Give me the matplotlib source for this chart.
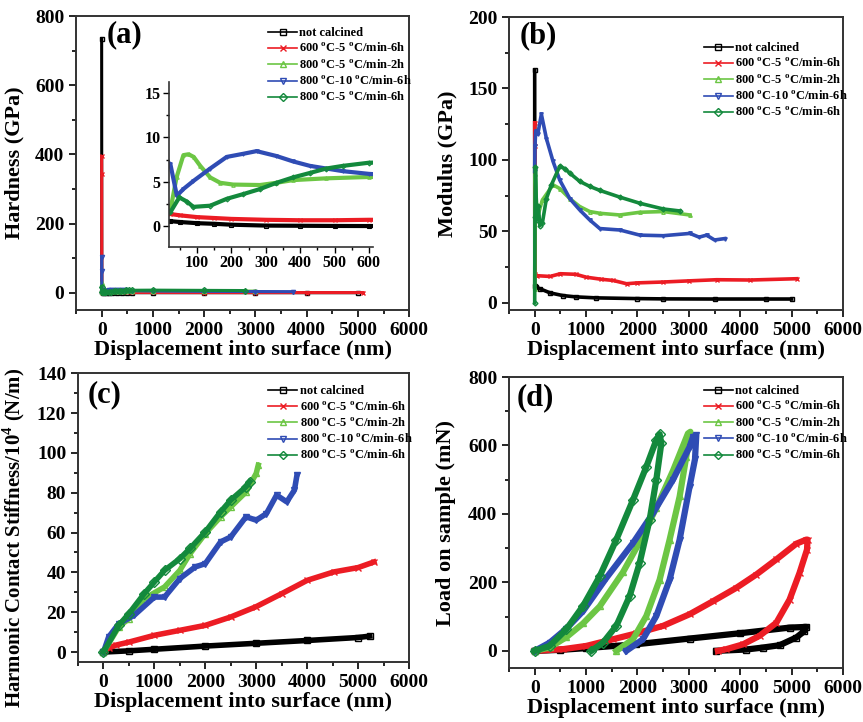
import numpy as np
import matplotlib
matplotlib.use('Agg')
import matplotlib.pyplot as plt
from matplotlib.ticker import MultipleLocator

plt.rcParams['font.family'] = ['Liberation Serif', 'DejaVu Serif']
plt.rcParams['font.weight'] = 'bold'
plt.rcParams['mathtext.fontset'] = 'custom'
plt.rcParams['mathtext.rm'] = 'Liberation Serif:bold'
plt.rcParams['mathtext.bf'] = 'Liberation Serif:bold'

# sample names, colours, markers
deg = r'$^{\mathrm{o}}$'
labels = ['not calcined', '600 ' + deg + 'C-5 ' + deg + 'C/min-6h', '800 ' + deg + 'C-5 ' + deg + 'C/min-2h',
          '800 ' + deg + 'C-10 ' + deg + 'C/min-6h', '800 ' + deg + 'C-5 ' + deg + 'C/min-6h']
colors = ['#000000', '#ec1c24', '#6cc644', '#2f4cb4', '#13893c']
markers = ['s', 'x', '^', 'v', 'D']

# (a) hardness vs displacement (GPa)
h_x = [
    [0, 3, 22, 50, 100, 150, 200, 300, 400, 500, 600, 1000, 2000, 3000, 4000, 5000],
    [0, 1, 3, 22, 50, 100, 150, 200, 300, 400, 500, 600, 1000, 2000, 3000, 4000, 5100],
    [0, 2, 22, 40, 60, 75, 90, 109, 138, 167, 205, 283, 331, 379, 476, 600, 1000, 2000, 3000],
    [0, 1, 3, 22, 41, 60, 89, 138, 186, 234, 273, 331, 379, 428, 476, 525, 600, 1000, 2000, 3000, 3740],
    [0, 2, 22, 48, 70, 89, 138, 186, 234, 283, 331, 379, 428, 476, 525, 600, 1000, 2000, 2800],
]
h_y = [
    [735, 0.7, 0.6, 0.5, 0.37, 0.3, 0.2, 0.1, 0.08, 0.06, 0.05, 0.05, 0.05, 0.05, 0.05, 0.05],
    [394, 343, 1.5, 1.4, 1.25, 1.05, 0.95, 0.85, 0.75, 0.7, 0.7, 0.75, 0.7, 0.6, 0.5, 0.5, 0.5],
    [28, 3, 1.8, 5.5, 8.0, 8.1, 7.8, 6.8, 5.5, 4.9, 4.7, 4.65, 4.9, 5.2, 5.4, 5.55, 5.6, 5.2, 4.8],
    [102, 64, 7.5, 7.0, 3.45, 4.2, 5.1, 6.5, 7.8, 8.15, 8.45, 7.9, 7.3, 6.8, 6.5, 6.2, 5.9, 5.0, 4.0, 3.5, 3.2],
    [18, 2, 1.6, 3.26, 2.8, 2.2, 2.33, 3.1, 3.63, 4.2, 4.9, 5.5, 6.0, 6.5, 6.8, 7.15, 7.5, 6.8, 6.3],
]

# (b) modulus (GPa)
m_x = [
    [0, 2, 30, 100, 300, 550, 800, 1200, 2000, 2500, 3500, 4500, 5000],
    [0, 2, 10, 50, 300, 500, 800, 1000, 1300, 1527, 1787, 2000, 2502, 3000, 3541, 4200, 5100],
    [0, 10, 40, 70, 150, 357, 487, 682, 877, 1072, 1267, 1657, 2047, 2502, 3021],
    [0, 5, 20, 60, 130, 228, 357, 487, 682, 877, 1072, 1267, 1657, 2047, 2502, 3021, 3200, 3346, 3500, 3700],
    [0, 5, 15, 40, 70, 100, 150, 228, 325, 487, 585, 682, 877, 1072, 1267, 1657, 2047, 2502, 2827],
]
m_y = [
    [163, 12, 11, 9.9, 7, 5.1, 4.2, 3.5, 3.0, 2.8, 2.7, 2.7, 2.7],
    [126, 110, 20, 19, 18.5, 20.4, 20, 18, 16.5, 15.7, 13.4, 14, 14.6, 15.4, 16.2, 16, 16.9],
    [10, 90, 65, 62, 72, 82.6, 80, 73, 67.4, 63.9, 62.7, 61.5, 63.4, 63.9, 61.5],
    [92, 110, 120, 118, 132, 115, 99, 86, 73, 65, 58, 52, 51, 47.4, 47, 48.6, 46, 47.4, 44, 45],
    [0, 60, 95, 58, 68, 54, 56, 73, 82.6, 95.5, 94, 90.8, 85, 81.5, 78.7, 74, 69.7, 65.7, 64.3],
]

# (c) harmonic contact stiffness / 10^4 (N/m)
s_x = [
    [0, 500, 1000, 2000, 3000, 4000, 5000, 5230],
    [0, 100, 250, 500, 1000, 1500, 2000, 2500, 3000, 3500, 4000, 4520, 5000, 5310],
    [0, 300, 500, 800, 1200, 1500, 1700, 2000, 2300, 2500, 2800, 3000, 3040],
    [0, 100, 300, 600, 1000, 1200, 1500, 1800, 2000, 2300, 2500, 2800, 3000, 3200, 3400, 3600, 3750, 3800],
    [0, 300, 500, 800, 1000, 1200, 1500, 1700, 2000, 2300, 2500, 2800, 2870],
]
s_y = [
    [0, 0.6, 1.4, 3.0, 4.4, 5.8, 7.3, 8.0],
    [0, 2, 3.5, 5.0, 8.4, 10.9, 13.4, 17.6, 22.8, 29.3, 36.0, 40.2, 42.4, 45.2],
    [0, 12.6, 16.8, 26.8, 32.7, 41, 49.4, 59.5, 67.9, 72.9, 80.4, 89.7, 93.8],
    [0, 7.5, 14.2, 18.4, 27.6, 27.6, 36.9, 42.7, 44.4, 55.3, 57.8, 67.9, 66.2, 69.5, 78.8, 75.4, 81.3, 88.8],
    [0, 13.4, 19.3, 29.3, 35.2, 41, 46.9, 52, 60.3, 70.4, 76.3, 83, 85.5],
]

# (d) load on sample (mN), loading then unloading
l_x = [
    [0, 500, 1000, 1978, 3015, 3988, 4961, 5285, 5250, 5091, 4766, 4442, 4118, 3534],
    [0, 551, 1005, 1524, 1978, 2497, 3015, 3470, 3923, 4313, 4702, 5091, 5285, 5310,
     5300, 5155, 4961, 4702, 4377, 4053, 3729, 3567],
    [0, 292, 616, 940, 1265, 1719, 2043, 2367, 2691, 2983, 3030,
     2950, 2821, 2626, 2432, 2173, 1913, 1589],
    [0, 292, 616, 940, 1394, 1913, 2302, 2691, 3015, 3080, 3145,
     3120, 3015, 2821, 2626, 2367, 2108, 1783],
    [0, 292, 616, 940, 1265, 1589, 1913, 2173, 2367, 2432,
     2464, 2367, 2237, 2043, 1848, 1589, 1329, 1102],
]
l_y = [
    [0, 3, 8, 19.4, 36, 51.4, 68, 70, 58, 39, 16.5, 9.7, 4, 0],
    [0, 5, 14.5, 34, 51, 73, 107, 145, 184, 223, 267, 313, 325, 325,
     296, 228, 150, 82, 44, 19, 5, 0],
    [0, 10, 40, 80, 130, 230, 318, 418, 526, 635, 640,
     567, 451, 325, 208, 102, 34, 0],
    [0, 24, 65, 116, 213, 315, 402, 500, 596, 625, 630,
     560, 480, 325, 208, 102, 34, 0],
    [0, 14.5, 63, 131, 218, 325, 441, 538, 616, 633,
     606, 500, 383, 257, 160, 73, 24, 0],
]

fig = plt.figure(figsize=(8.63, 7.22), dpi=100)
ax_a = fig.add_axes([0.0881, 0.5706, 0.386, 0.4072])
ax_b = fig.add_axes([0.5898, 0.5706, 0.387, 0.4058])
ax_c = fig.add_axes([0.0904, 0.0831, 0.3835, 0.400])
ax_d = fig.add_axes([0.5898, 0.0748, 0.387, 0.403])
ax_in = fig.add_axes([0.1958, 0.6579, 0.2364, 0.2285])


def style(ax, ylim, ymaj, ylabel, lab_x, lab_y=0.5, lab_fs=16):
    ax.set_xlim(-500, 6000)
    ax.set_ylim(*ylim)
    ax.xaxis.set_major_locator(MultipleLocator(1000))
    ax.xaxis.set_minor_locator(MultipleLocator(500))
    ax.yaxis.set_major_locator(MultipleLocator(ymaj))
    ax.yaxis.set_minor_locator(MultipleLocator(ymaj / 2))
    ax.tick_params(which='both', direction='out', top=False, right=False, labelsize=14, width=1.2)
    ax.tick_params(which='major', length=5)
    ax.tick_params(which='minor', length=3)
    for sp in ax.spines.values():
        sp.set_linewidth(1.4)
        sp.set_color('#333333')
    ax.set_xlabel('Displacement into surface (nm)', fontsize=16, fontweight='bold', labelpad=1)
    ax.set_ylabel(ylabel, fontsize=lab_fs, fontweight='bold')
    ax.yaxis.set_label_coords(lab_x, lab_y)


def draw(ax, xs, ys, ms, lw, legend_pos, letter, letter_pos):
    for i in range(5):
        ax.plot(xs[i], ys[i], color=colors[i], marker=markers[i], ms=ms,
                mfc='none', mew=1.0, lw=lw, label=labels[i])
    leg = ax.legend(loc='upper left', bbox_to_anchor=legend_pos, frameon=False,
                    fontsize=9, handlelength=2.3, handletextpad=0.2,
                    labelspacing=0.25, borderpad=0, borderaxespad=0)
    for line in leg.get_lines():
        line.set_linewidth(1.2)
        line.set_markersize(4.5)
    ax.text(letter_pos[0], letter_pos[1], letter, transform=ax.transAxes,
            fontsize=22, fontweight='bold', va='top', ha='left')


draw(ax_a, h_x, h_y, 3, 2.2, (0.577, 0.962), '(a)', (0.093, 0.985))
style(ax_a, (-50, 800), 200, 'Hardness (GPa)', -0.156)

draw(ax_b, m_x, m_y, 2.5, 2.6, (0.584, 0.914), '(b)', (0.033, 0.985))
style(ax_b, (-5, 200), 50, 'Modulus (GPa)', -0.153)

draw(ax_c, s_x, s_y, 5, 4.0, (0.575, 0.958), '(c)', (0.03, 0.975))
style(ax_c, (-5, 140), 20, r'Harmonic Contact Stiffness/10$^{4}$ (N/m)', -0.154, 0.43, 15)

draw(ax_d, l_x, l_y, 5, 4.5, (0.584, 0.972), '(d)', (0.024, 0.98))
style(ax_d, (-50, 800), 200, 'Load on sample (mN)', -0.159)

# inset of (a)
for i in range(5):
    ax_in.plot(h_x[i], h_y[i], color=colors[i], marker=markers[i], ms=2.5,
               mfc='none', mew=0.8, lw=3.0)
ax_in.set_xlim(18, 612)
ax_in.set_ylim(-2.3, 16.2)
ax_in.xaxis.set_major_locator(MultipleLocator(100))
ax_in.xaxis.set_minor_locator(MultipleLocator(50))
ax_in.yaxis.set_major_locator(MultipleLocator(5))
ax_in.yaxis.set_minor_locator(MultipleLocator(2.5))
ax_in.spines['top'].set_visible(False)
ax_in.spines['right'].set_visible(False)
for sp in ['left', 'bottom']:
    ax_in.spines[sp].set_linewidth(1.2)
    ax_in.spines[sp].set_color('#333333')
ax_in.patch.set_alpha(0)
ax_in.tick_params(which='both', direction='out', labelsize=11.5, width=1.0, pad=2)
ax_in.tick_params(which='major', length=4)
ax_in.tick_params(which='minor', length=2)

fig.savefig('out.png', dpi=100)
